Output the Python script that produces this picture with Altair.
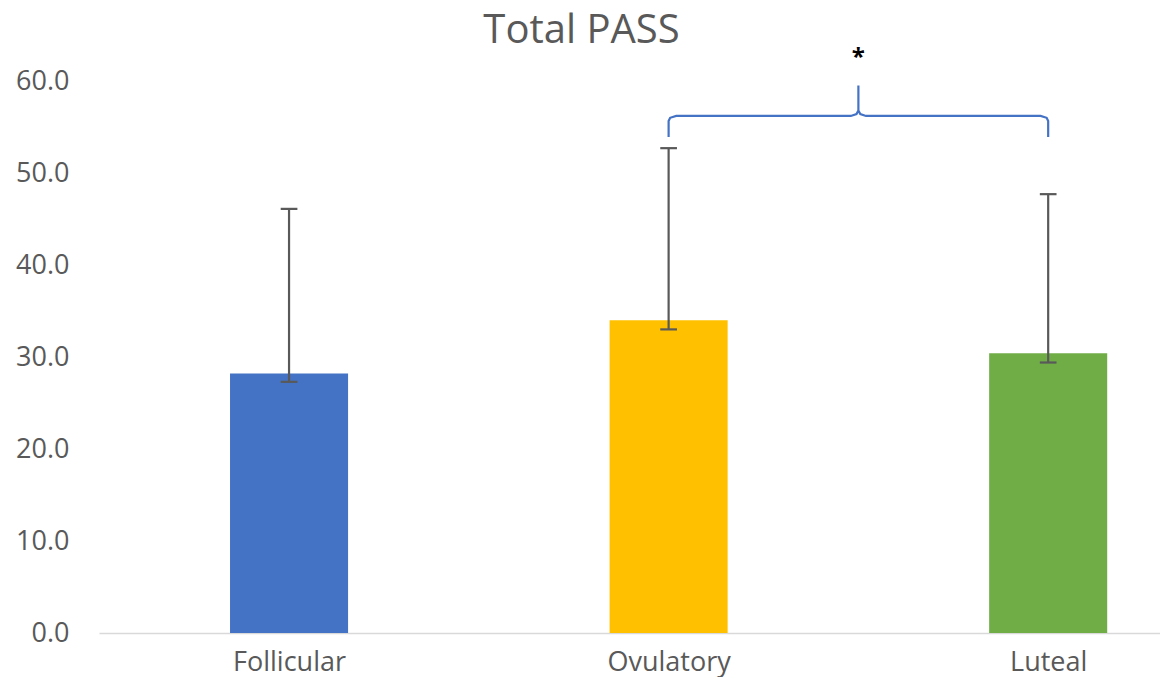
import altair as alt
import pandas as pd

categories = ["Follicular", "Ovulatory", "Luteal"]
means = [28.2, 34.0, 30.4]
err_high = [46.1, 52.7, 47.7]
err_low = [27.3, 33.0, 29.4]
colors = ["#4472C4", "#FFC000", "#70AD47"]

# significance bracket between Ovulatory (1) and Luteal (2)
sig_pair = [1, 2]
sig_label = "*"
brace_level = 56.2
brace_drop = 2.3
brace_tip = 3.3

FONT = "Open Sans"
TXT = "#595959"

df = pd.DataFrame({
    "idx": list(range(len(categories))),
    "cat": categories,
    "mean": means,
    "hi": err_high,
    "lo": err_low,
    "color": colors,
})

half = 0.1555
xscale = alt.Scale(domain=[-0.5007, 2.2946], nice=False, zero=False)
yscale = alt.Scale(domain=[0, 60], nice=False)

label_expr = "[" + ",".join(f"'{c}'" for c in categories) + "][datum.value]"

x_axis = alt.Axis(
    values=list(range(len(categories))),
    labelExpr=label_expr,
    title=None,
    ticks=False,
    grid=False,
    domainColor="#D9D9D9",
    domainWidth=1.5,
    labelFont=FONT,
    labelFontSize=27,
    labelColor=TXT,
    labelPadding=16,
)
y_axis = alt.Axis(
    values=[0, 10, 20, 30, 40, 50, 60],
    format=".1f",
    title=None,
    ticks=False,
    grid=False,
    domain=False,
    labelFont=FONT,
    labelFontSize=27,
    labelColor=TXT,
    labelPadding=30,
)

base = alt.Chart(df).transform_calculate(
    x1=f"datum.idx - {half}", x2=f"datum.idx + {half}",
    c1="datum.idx - 0.022", c2="datum.idx + 0.022",
)

bars = base.mark_bar().encode(
    x=alt.X("x1:Q", scale=xscale, axis=x_axis),
    x2="x2:Q",
    y=alt.Y("mean:Q", scale=yscale, axis=y_axis),
    y2=alt.datum(0),
    color=alt.Color("color:N", scale=None),
)

err = base.mark_rule(color="#595959", strokeWidth=2.2).encode(
    x="idx:Q", y="lo:Q", y2="hi:Q"
)
cap_hi = base.mark_rule(color="#595959", strokeWidth=2.2).encode(
    x="c1:Q", x2="c2:Q", y="hi:Q"
)
cap_lo = base.mark_rule(color="#595959", strokeWidth=2.2).encode(
    x="c1:Q", x2="c2:Q", y="lo:Q"
)

a, b = sig_pair
m = (a + b) / 2
L = brace_level
brace_pts = [
    (a, L - brace_drop), (a, L - 0.55), (a + 0.004, L - 0.2), (a + 0.02, L),
    (m - 0.02, L), (m - 0.005, L + 0.2), (m, L + 0.6), (m, L + brace_tip),
    (m, L + 0.6), (m + 0.005, L + 0.2), (m + 0.02, L),
    (b - 0.02, L), (b - 0.004, L - 0.2), (b, L - 0.55), (b, L - brace_drop),
]
brace_df = pd.DataFrame({
    "bx": [p[0] for p in brace_pts],
    "by": [p[1] for p in brace_pts],
    "o": list(range(len(brace_pts))),
})
brace = alt.Chart(brace_df).mark_line(color="#4472C4", strokeWidth=2.2, clip=False).encode(
    x="bx:Q", y="by:Q", order="o:Q"
)

star_df = pd.DataFrame({"sx": [m], "sy": [L + brace_tip + 3.0], "t": [sig_label]})
star = alt.Chart(star_df).mark_text(
    font=FONT, fontSize=24, fontWeight="bold", color="#000000", baseline="middle", clip=False
).encode(x="sx:Q", y="sy:Q", text="t:N")

chart = alt.layer(bars, err, cap_hi, cap_lo, brace, star).properties(
    width=1061,
    height=552,
    background="white",
    title=alt.TitleParams(
        "Total PASS", font=FONT, fontSize=40, fontWeight="normal", color=TXT,
        anchor="middle", offset=-5, dx=-48,
    ),
    padding={"left": 7, "top": 2, "right": 0, "bottom": 2},
).configure_view(stroke="transparent", strokeWidth=0)

chart.save("out.html", embed_options={"renderer": "svg", "actions": False})
